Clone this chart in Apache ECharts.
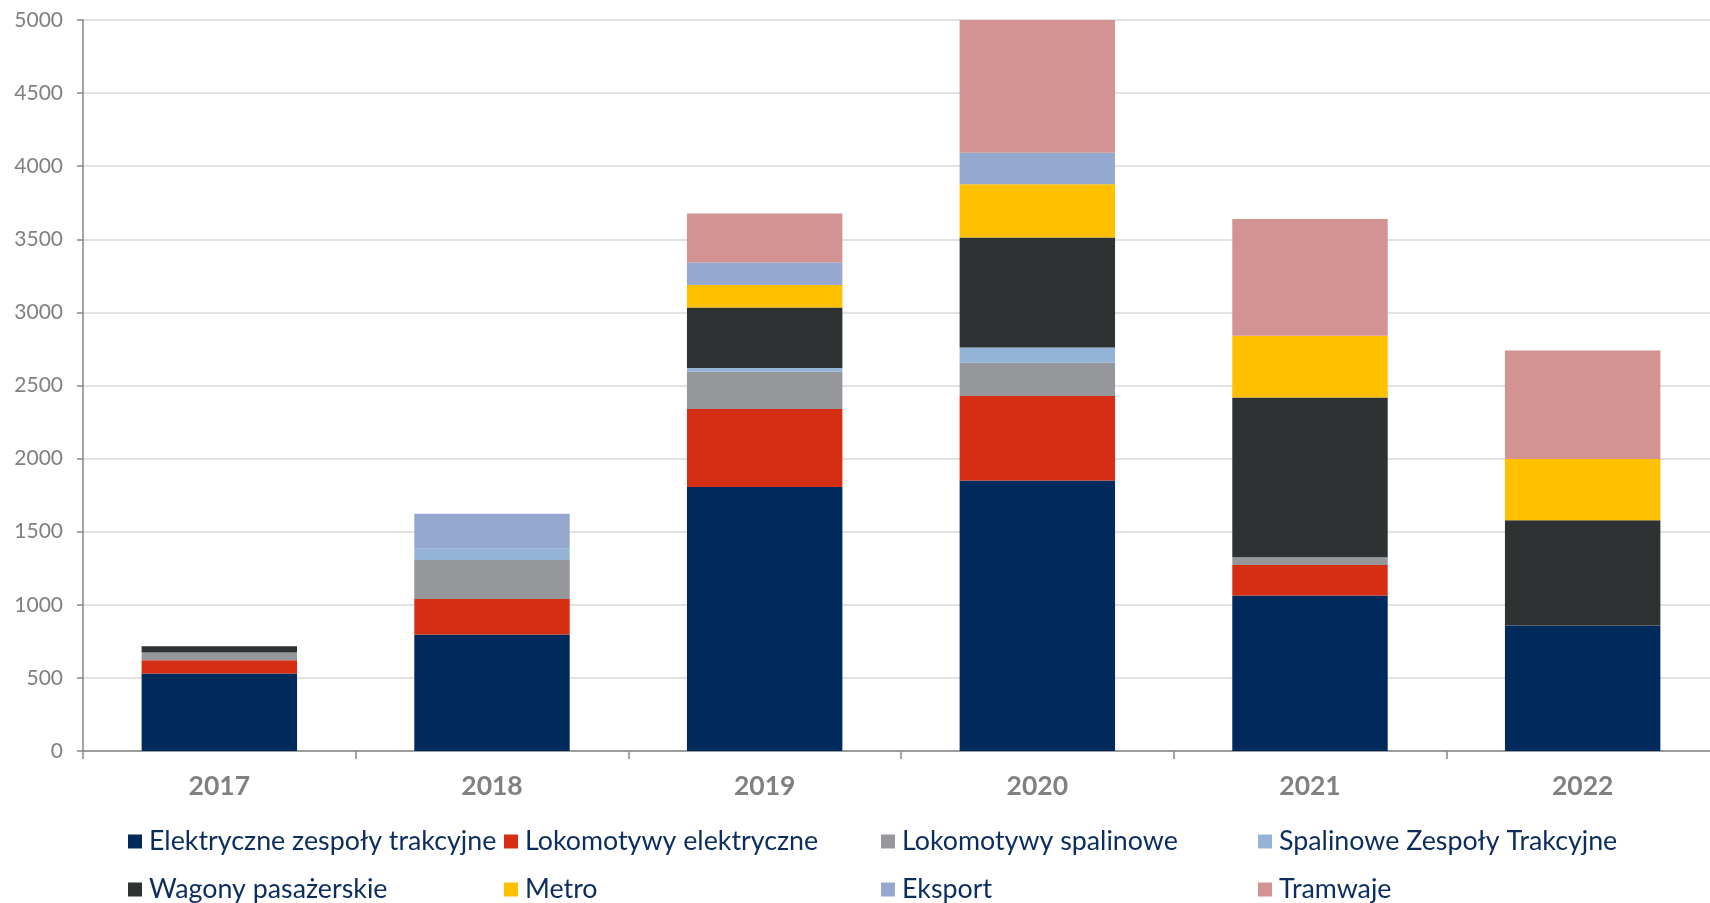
<!DOCTYPE html>
<html>
<head>
<meta charset="utf-8">
<script src="https://cdn.jsdelivr.net/npm/echarts@6/dist/echarts.min.js"></script>
<style>
html,body{margin:0;padding:0;background:#fff;overflow:hidden;width:1710px;height:903px;}
#chart{width:1719px;height:903px;}
</style>
</head>
<body>
<div id="chart"></div>
<script>
const categories = ['2017', '2018', '2019', '2020', '2021', '2022'];
const seriesNames = ['Elektryczne zespoły trakcyjne', 'Lokomotywy elektryczne', 'Lokomotywy spalinowe', 'Spalinowe Zespoły Trakcyjne', 'Wagony pasażerskie', 'Metro', 'Eksport', 'Tramwaje'];
const ezt      = [530, 797, 1805, 1850, 1063, 858];
const lokEl    = [91, 243, 535, 579, 210, 0];
const lokSp    = [52, 267, 254, 226, 52, 0];
const szt      = [0, 80, 25, 105, 0, 0];
const wagony   = [44, 0, 415, 753, 1093, 721];
const metro    = [0, 0, 153, 363, 422, 419];
const eksport  = [0, 235, 155, 216, 0, 0];
const tramwaje = [0, 0, 335, 908, 798, 742];
const yTicks = [0, 500, 1000, 1500, 2000, 2500, 3000, 3500, 4000, 4500, 5000];

const values = [ezt, lokEl, lokSp, szt, wagony, metro, eksport, tramwaje];
const colors = ['#002A5C', '#D52E13', '#96979A', '#95B3D7', '#2E3233', '#FFC000', '#95A9D0', '#D29392'];

const legendCols = [128, 504, 881, 1258];
const legendRows = [828, 876];
const legends = seriesNames.map((n, i) => ({
  data: [n],
  left: legendCols[i % 4],
  top: legendRows[Math.floor(i / 4)],
  padding: 0,
  icon: 'rect',
  itemWidth: 14,
  itemHeight: 14,
  selectedMode: false,
  textStyle: { fontFamily: 'Lato', fontSize: 26.8, color: '#0B2D5F', padding: [0, 0, 0, 2] }
}));

const chart = echarts.init(document.getElementById('chart'), null, { renderer: 'canvas' });
chart.setOption({
  animation: false,
  color: colors,
  grid: { left: 83, top: 20, right: 0, bottom: 152, containLabel: false },
  legend: legends,
  xAxis: {
    type: 'category',
    data: categories,
    boundaryGap: true,
    axisLine: { lineStyle: { color: '#868686', width: 1.5 } },
    axisTick: { show: true, length: 8, lineStyle: { color: '#868686', width: 1.5 } },
    axisLabel: { fontFamily: 'Lato', fontSize: 26.5, fontWeight: 'bold', color: '#808080', margin: 22 }
  },
  yAxis: {
    type: 'value',
    min: yTicks[0],
    max: yTicks[yTicks.length - 1],
    interval: yTicks[1] - yTicks[0],
    axisLine: { show: true, lineStyle: { color: '#868686', width: 1.5 } },
    axisTick: { show: true, length: 6, lineStyle: { color: '#868686', width: 1.5 } },
    axisLabel: { fontFamily: 'Lato', fontSize: 21, color: '#808080', margin: 20, formatter: v => String(v) },
    splitLine: { lineStyle: { color: '#D9D9D9', width: 1.5 } }
  },
  series: seriesNames.map((n, i) => ({
    name: n,
    type: 'bar',
    stack: 'total',
    data: values[i],
    barWidth: '57%',
    itemStyle: { color: colors[i] }
  }))
});
</script>
</body>
</html>
